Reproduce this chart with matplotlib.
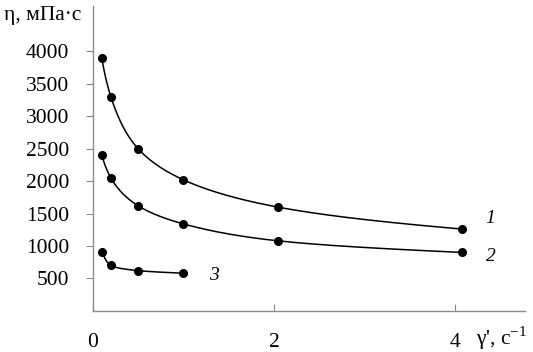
import matplotlib
matplotlib.use("Agg")
import matplotlib.pyplot as plt
import numpy as np

plt.rcParams['font.family'] = ['Liberation Serif', 'DejaVu Serif']
plt.rcParams['mathtext.fontset'] = 'custom'
plt.rcParams['mathtext.rm'] = 'Liberation Serif'

# shear rate, 1/s
shear_1 = [0.1, 0.2, 0.5, 1.0, 2.04, 4.08]
shear_2 = [0.1, 0.2, 0.5, 1.0, 2.04, 4.08]
shear_3 = [0.1, 0.2, 0.5, 1.0]
# viscosity, mPa*s
visc_1 = [3900, 3300, 2500, 2020, 1600, 1260]
visc_2 = [2400, 2050, 1620, 1340, 1080, 900]
visc_3 = [910, 700, 620, 580]
curve_labels = ["1", "2", "3"]
y_ticks = [500, 1000, 1500, 2000, 2500, 3000, 3500, 4000]
x_ticks = [0, 2, 4]


def pchip(x, y, xs):
    # monotone cubic hermite (Fritsch-Carlson)
    x = np.asarray(x, float)
    y = np.asarray(y, float)
    h = np.diff(x)
    d = np.diff(y) / h
    m = np.zeros_like(y)
    for k in range(1, len(x) - 1):
        if d[k - 1] * d[k] > 0:
            w1 = 2 * h[k] + h[k - 1]
            w2 = h[k] + 2 * h[k - 1]
            m[k] = (w1 + w2) / (w1 / d[k - 1] + w2 / d[k])
    m[0] = d[0]
    m[-1] = d[-1]
    idx = np.clip(np.searchsorted(x, xs) - 1, 0, len(h) - 1)
    t = (xs - x[idx]) / h[idx]
    h00 = 2 * t**3 - 3 * t**2 + 1
    h10 = t**3 - 2 * t**2 + t
    h01 = -2 * t**3 + 3 * t**2
    h11 = t**3 - t**2
    return h00 * y[idx] + h10 * h[idx] * m[idx] + h01 * y[idx + 1] + h11 * h[idx] * m[idx + 1]


fig = plt.figure(figsize=(5.33, 3.52), dpi=100)
ax = fig.add_axes([0.174, 0.117, 0.811, 0.866])

for xs, ys in [(shear_1, visc_1), (shear_2, visc_2), (shear_3, visc_3)]:
    lx = np.log(xs)
    grid = np.linspace(lx[0], lx[-1], 300)
    ax.plot(np.exp(grid), pchip(lx, ys, grid), color='black', lw=1.1)
    ax.plot(xs, ys, 'o', color='black', ms=5.5)

ax.text(4.33, 1430, curve_labels[0], style='italic', fontsize=14, va='center')
ax.text(4.34, 845, curve_labels[1], style='italic', fontsize=14, va='center')
ax.text(1.28, 550, curve_labels[2], style='italic', fontsize=14, va='center')

ax.set_xlim(0, 4.77)
ax.set_ylim(0, 4700)
ax.set_xticks(x_ticks)
ax.set_yticks(y_ticks)
ax.spines['top'].set_visible(False)
ax.spines['right'].set_visible(False)
for s in ['left', 'bottom']:
    ax.spines[s].set_color('#8a8a8a')
    ax.spines[s].set_linewidth(1.0)
ax.tick_params(axis='y', direction='out', length=5, color='#8a8a8a', pad=12, labelsize=15.5)
ax.tick_params(axis='x', direction='in', length=5, color='#8a8a8a', pad=16, labelsize=15.5)

fig.text(0.008, 0.955, "η, мПа·с", fontsize=15.5, va='center')
fig.text(0.893, 0.04, "γ', с$^{-1}$", fontsize=15.5, va='center')

fig.savefig("out.png", dpi=100)
